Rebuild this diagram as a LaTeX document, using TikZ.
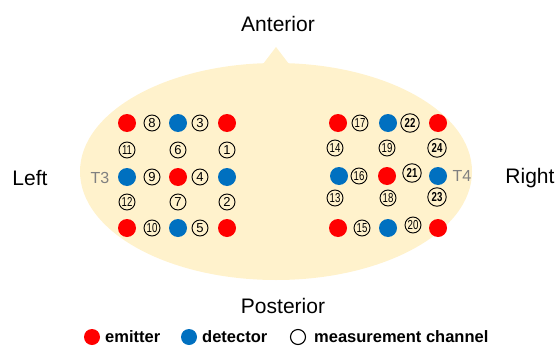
\documentclass[tikz,border=0pt]{standalone}
\usepackage{fontspec}
\setmainfont{Liberation Sans}
\usepackage{graphicx}
\usepackage{xcolor}
\usepackage{tikz}
\definecolor{scalp}{RGB}{255,242,204}
\definecolor{emitred}{RGB}{255,0,0}
\definecolor{detblue}{RGB}{0,112,192}
\definecolor{tgray}{RGB}{128,128,128}
\newcommand\chnum[1]{\ifnum#1>9 \scalebox{0.74}[1]{#1}\else #1\fi}
\tikzset{
  emitter/.style={circle,fill=emitred,minimum size=18pt,inner sep=0pt},
  detector/.style={circle,fill=detblue,minimum size=18pt,inner sep=0pt},
  channel/.style={circle,draw,line width=0.9pt,minimum size=16pt,inner sep=0pt,
    font=\fontsize{13}{13}\selectfont},
  bigchannel/.style={channel,minimum size=18.5pt,font=\fontsize{13}{13}\selectfont\bfseries},
  sidelabel/.style={font=\fontsize{21}{25}\selectfont},
  tlabel/.style={text=tgray,font=\fontsize{16}{18}\selectfont},
  legendtext/.style={anchor=west,inner sep=0pt,font=\fontsize{16.5}{18}\selectfont\bfseries}
}

\begin{document}
\begin{tikzpicture}[x=1pt,y=-1pt]
\useasboundingbox (0,0) rectangle (556,345);
% head outline
\fill[scalp] (276,171.5) ellipse[x radius=196, y radius=108.5];
\fill[scalp] (260,68) -- (276,47) -- (292,68) -- cycle;
% labels
\node[sidelabel] (ant) at (278,24) {Anterior};
\node[sidelabel] (post) at (283,306) {Posterior};
\node[sidelabel] (left) at (30,178) {Left};
\node[sidelabel] (right) at (530,178) {Right};
\node[tlabel] (t3) at (100,178) {T3};
\node[tlabel] (t4) at (462,176) {T4};
% emitters and detectors
\foreach \n/\x/\y in {1/127/123, 2/227/123, 3/178/177, 4/127/228, 5/227/228,
                      6/338/123, 7/438/123, 8/387/176, 9/338/228, 10/438/228}
  \node[emitter] (e\n) at (\x,\y) {};
\foreach \n/\x/\y in {1/178/123, 2/127/177, 3/227/177, 4/178/228,
                      5/388/123, 6/339/176, 7/438/176, 8/388/228}
  \node[detector] (d\n) at (\x,\y) {};
% measurement channels
\foreach \n/\x/\y in {8/152/123, 3/200/123, 11/127/150, 6/178/150, 1/227/150,
                      9/152/177, 4/200/177, 12/127/202, 7/178/202, 2/227/202,
                      10/152/228, 5/200/228,
                      17/360/123, 14/335/148, 19/387/148, 16/359/176,
                      13/335/198, 18/388/198, 15/362/228, 20/413/225}
  \node[channel] (c\n) at (\x,\y) {\chnum{\n}};
\foreach \n/\x/\y in {22/410/123, 24/437/148, 21/412/173, 23/437/197}
  \node[bigchannel] (c\n) at (\x,\y) {\chnum{\n}};
% legend
\node[emitter,minimum size=16pt] (le) at (92,337) {};
\node[legendtext] (lt1) at (105,337) {emitter};
\node[detector,minimum size=16pt] (ld) at (189,337) {};
\node[legendtext] (lt2) at (202,337) {detector};
\node[circle,draw,line width=1.1pt,minimum size=15pt,inner sep=0pt] (lc) at (298,337) {};
\node[legendtext] (lt3) at (314,337) {measurement channel};
\end{tikzpicture}
\end{document}
